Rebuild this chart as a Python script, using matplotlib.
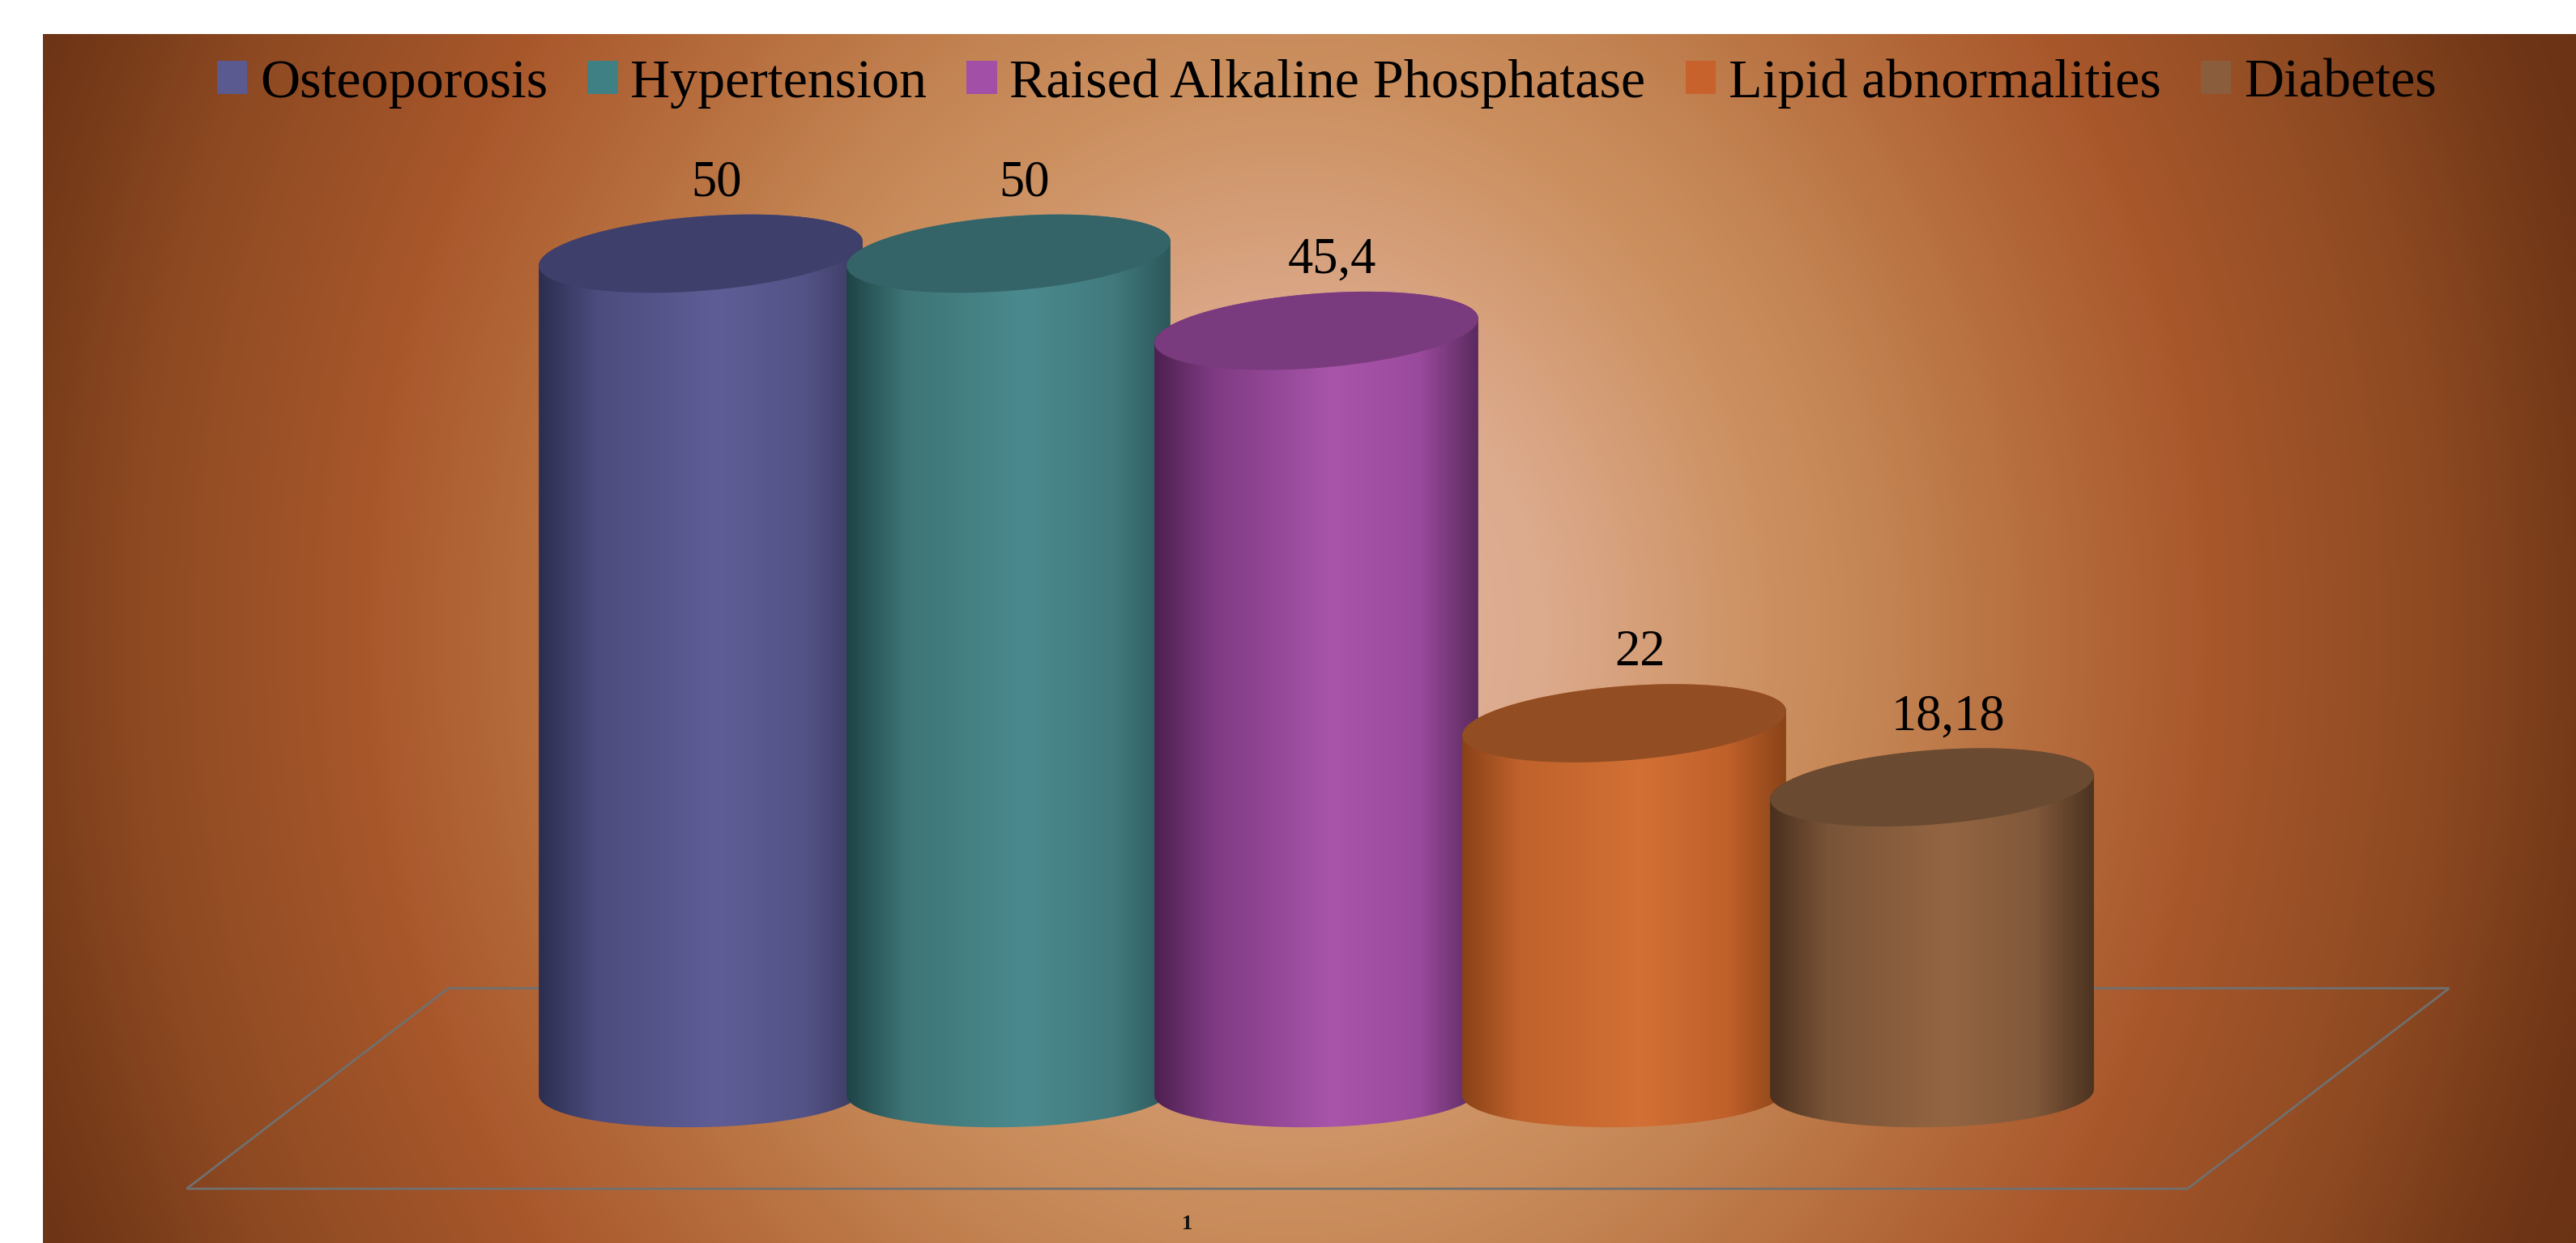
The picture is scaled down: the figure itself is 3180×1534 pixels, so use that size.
import matplotlib

matplotlib.use("Agg")

import matplotlib.pyplot as plt
import numpy as np
from matplotlib.colors import LinearSegmentedColormap
from matplotlib.patches import Patch, Polygon

categories = ["Osteoporosis", "Hypertension", "Raised Alkaline Phosphatase",
              "Lipid abnormalities", "Diabetes"]
values = [50, 50, 45.4, 22, 18.18]
value_labels = ["50", "50", "45,4", "22", "18,18"]
axis_labels = ["1"]

legend_colors = ["#5a5990", "#3f8084", "#a24fa7", "#c8622d", "#8a5d3d"]
top_colors = ["#3e3f6a", "#356468", "#7a3a7e", "#934d22", "#6a4a30"]
side_colors = [
    ["#2c2e50", "#4c4c7e", "#5e5d96", "#545387", "#3a3a60"],
    ["#1e4446", "#3e7476", "#4a8a8e", "#427a7e", "#2c585a"],
    ["#4e2050", "#7e3a82", "#a855aa", "#9a4a9c", "#5a2a5e"],
    ["#8a4218", "#c0622c", "#d27035", "#c0602a", "#8a4418"],
    ["#4a301e", "#7a5438", "#946542", "#80583a", "#4c3320"],
]
side_nodes = [0.0, 0.18, 0.55, 0.82, 1.0]

bg_nodes = [0.0, 0.2, 0.375, 0.45, 0.57, 0.72, 0.89, 1.04, 1.25]
bg_colors = ["#e4b8a6", "#dcaa8c", "#cc9060", "#c58655", "#b87040",
             "#a8572b", "#8e4a22", "#6e3516", "#623012"]

W, H = 3180, 1534
DPI = 100
# pixel mapping of the category / value axes
X0, XSTEP = 865, 380
Y0, YUNIT = 1348, 20.7
RADIUS = 0.526
B_TOP, B_BOT = 2.22, 2.08
SHEAR_TOP, SHEAR_BOT = 0.72, 0.17
FLOOR = [(-0.82, 6.2), (5.68, 6.2), (4.83, -5.75), (-1.67, -5.75)]

plt.rcParams["font.family"] = ["Liberation Serif", "DejaVu Serif"]

fig = plt.figure(figsize=(W / DPI, H / DPI), dpi=DPI, facecolor="white")

# background panel with radial gradient
left_px, top_px = 53, 42
bg_ax = fig.add_axes([left_px / W, 0, 1 - left_px / W, (H - top_px) / H])
xs = np.linspace(left_px, W, 640)
ys = np.linspace(top_px, H, 320)
X, Y = np.meshgrid(xs, ys)
r = np.sqrt(((X - 1590) / 1590) ** 2 + ((Y - 780) / 1800) ** 2)
bg_cmap = LinearSegmentedColormap.from_list(
    "bg", list(zip(np.array(bg_nodes) / bg_nodes[-1], bg_colors)))
bg_ax.imshow(r, cmap=bg_cmap, vmin=0, vmax=bg_nodes[-1], aspect="auto",
             extent=[0, 1, 0, 1], interpolation="bilinear")
bg_ax.axis("off")

ax = fig.add_axes([0, 0, 1, 1])
ax.patch.set_alpha(0)
ax.axis("off")

# floor outline
ax.add_patch(Polygon(FLOOR, closed=True, facecolor="none", edgecolor="#707070",
                     linewidth=2, zorder=1))


def ellipse_pts(cx, cy, b, shear, t):
    return np.column_stack([cx + RADIUS * np.cos(t),
                            cy + b * np.sin(t) + shear * np.cos(t)])


for i, v in enumerate(values):
    z = 2 + 2 * i
    lower = ellipse_pts(i, 0, B_BOT, SHEAR_BOT, np.linspace(np.pi, 2 * np.pi, 120))
    upper = ellipse_pts(i, v, B_TOP, SHEAR_TOP, np.linspace(0, np.pi, 120))
    side = Polygon(np.vstack([lower, upper]), closed=True, facecolor="none",
                   edgecolor="none", transform=ax.transData)
    ax.add_patch(side)
    cmap = LinearSegmentedColormap.from_list(f"c{i}", list(zip(side_nodes, side_colors[i])))
    grad = np.linspace(0, 1, 256).reshape(1, -1)
    im = ax.imshow(grad, cmap=cmap, aspect="auto", zorder=z,
                   extent=[i - RADIUS, i + RADIUS, -B_BOT - 1, v + B_TOP + 1])
    im.set_clip_path(side)
    top = ellipse_pts(i, v, B_TOP, SHEAR_TOP, np.linspace(0, 2 * np.pi, 240))
    ax.add_patch(Polygon(top, closed=True, facecolor=top_colors[i],
                         edgecolor="none", zorder=z + 1))
    ax.annotate(value_labels[i], xy=(i, v), xytext=(14, 62), textcoords="offset points",
                ha="center", va="center", fontsize=45, color="black", zorder=20)

front_mid = (FLOOR[2][0] + FLOOR[3][0]) / 2
ax.annotate(axis_labels[0], xy=(front_mid, FLOOR[2][1]), xytext=(0, -31),
            textcoords="offset points", ha="center", va="center", fontsize=19,
            fontweight="bold", color="#111111")

ax.set_xlim(-X0 / XSTEP, (W - X0) / XSTEP)
ax.set_ylim((Y0 - H) / YUNIT, Y0 / YUNIT)

handles = [Patch(facecolor=c, edgecolor="none") for c in legend_colors]
fig.legend(handles, categories, loc="center", bbox_to_anchor=(0.515, 0.933), ncol=5,
           frameon=False, fontsize=49, handlelength=0.55, handleheight=0.55,
           handletextpad=0.23, columnspacing=0.72)

fig.savefig("out.png", dpi=DPI, facecolor="white")
plt.close(fig)
